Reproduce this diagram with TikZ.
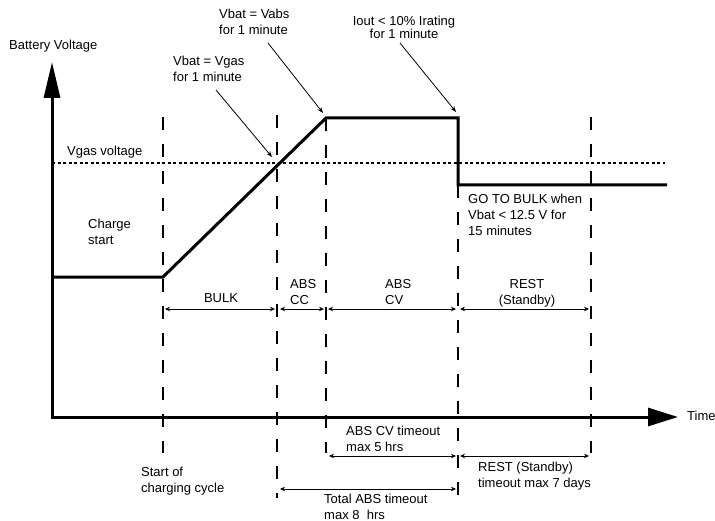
\documentclass[tikz,border=0pt]{standalone}
\usepackage{fontspec}
\setmainfont{Liberation Sans}
\usetikzlibrary{arrows.meta}
\begin{document}
\begin{tikzpicture}[x=1bp,y=-1bp,
  lbl/.style={font=\fontsize{13bp}{16bp}\selectfont, inner sep=0pt, align=left, anchor=west},
  curve/.style={line width=3bp, line join=miter},
  vdash/.style={line width=2bp, dash pattern=on 13bp off 14bp},
  vdot/.style={line width=1.8bp, dash pattern=on 3bp off 2.5bp},
  dim/.style={line width=0.8bp, {Stealth[length=5bp,width=4.5bp]}-{Stealth[length=5bp,width=4.5bp]}},
  note/.style={line width=0.8bp, -{Stealth[length=6bp,width=4.5bp]}}]
\useasboundingbox (0,0) rectangle (715,521);

% coordinates
\coordinate (o) at (52,417);
\coordinate (ytip) at (52,62);
\coordinate (xtip) at (678,417);
\coordinate (c0) at (52,277);
\coordinate (c1) at (163,277);
\coordinate (c2) at (326,118);
\coordinate (c3) at (458,118);
\coordinate (c4) at (458,185);
\coordinate (c5) at (667,185);

% dashed verticals
\draw[vdash] (163,117) coordinate (d1t) -- (163,453) coordinate (d1b);
\draw[vdash] (277,115) coordinate (d2t) -- (277,498) coordinate (d2b);
\draw[vdash] (326,118) coordinate (d3t) -- (326,453) coordinate (d3b);
\draw[vdash] (458,185) coordinate (d4t) -- (458,498) coordinate (d4b);
\draw[vdash] (591,117) coordinate (d5t) -- (591,453) coordinate (d5b);

% dotted Vgas line
\coordinate (g0) at (52,163);
\coordinate (g1) at (665,163);
\draw[vdot] (g0) -- (g1);

% voltage curve
\draw[curve] (c0) -- (c1) -- (c2) -- (c3) -- (c4) -- (c5);

% axes
\draw[line width=3bp, line join=miter, {Triangle[length=36bp,width=16bp]}-{Triangle[length=30bp,width=18bp]}] (ytip) -- (o) -- (xtip);

% labels
\node[lbl] (ylab) at (9,46) {Battery Voltage};
\node[lbl] (vabs) at (219,21.5) {Vbat = Vabs\\for 1 minute};
\node[lbl] (vgas) at (173,69) {Vbat = Vgas\\for 1 minute};
\node[lbl, align=center, anchor=center] (iout) at (404,27) {Iout < 10\% Irating\\[-3bp]for 1 minute};
\node[lbl] (vgasv) at (67,152) {Vgas voltage};
\node[lbl] (cs) at (88,231.5) {Charge\\start};
\node[lbl] (gtb) at (468,214.5) {GO TO BULK when\\Vbat < 12.5 V for\\15 minutes};
\node[lbl, anchor=center] (bulk) at (221,298) {BULK};
\node[lbl] (abscc) at (290,292) {ABS\\CC};
\node[lbl] (abscv) at (385,292) {ABS\\CV};
\node[lbl, align=center, anchor=center] (rest) at (527,293) {REST\\(Standby)};
\node[lbl] (cvto) at (346,439) {ABS CV timeout\\max 5 hrs};
\node[lbl] (restto) at (478,476) {REST (Standby)\\timeout max 7 days};
\node[lbl] (totabs) at (324,507) {Total ABS timeout\\max 8\ \ hrs};
\node[lbl] (start) at (141,481) {Start of\\charging cycle};
\node[lbl] (time) at (687,416) {Time};

% annotation arrows
\coordinate (a1s) at (268,43);  \coordinate (a1e) at (323,113);
\coordinate (a2s) at (216,90);  \coordinate (a2e) at (272,157);
\coordinate (a3s) at (400,43);  \coordinate (a3e) at (456,112);
\draw[note] (a1s) -- (a1e);
\draw[note] (a2s) -- (a2e);
\draw[note] (a3s) -- (a3e);

% dimension arrows
\coordinate (b1) at (165,309); \coordinate (b2) at (275,309);
\coordinate (b3) at (280,309); \coordinate (b4) at (324,309);
\coordinate (b5) at (328,309); \coordinate (b6) at (456,309);
\coordinate (b7) at (460,309); \coordinate (b8) at (589,309);
\draw[dim] (b1) -- (b2);
\draw[dim] (b3) -- (b4);
\draw[dim] (b5) -- (b6);
\draw[dim] (b7) -- (b8);

\coordinate (e1) at (329,456); \coordinate (e2) at (456,456);
\coordinate (e3) at (460,456); \coordinate (e4) at (589,456);
\coordinate (e5) at (280,489); \coordinate (e6) at (456,489);
\draw[dim] (e1) -- (e2);
\draw[dim] (e3) -- (e4);
\draw[dim] (e5) -- (e6);
\end{tikzpicture}
\end{document}
